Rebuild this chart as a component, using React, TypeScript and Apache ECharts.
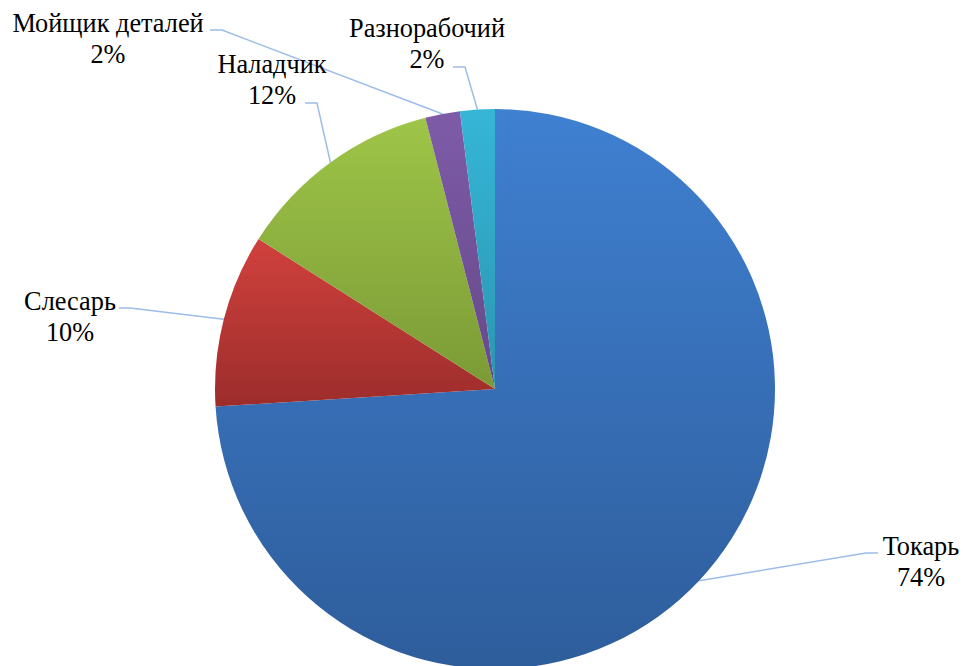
import React, { useEffect, useRef } from "react";
import * as echarts from "echarts";

const categories = ["Токарь", "Слесарь", "Наладчик", "Мойщик деталей", "Разнорабочий"];
const values = [74, 10, 12, 2, 2];
const topColors = ["#3F80D1", "#D0413D", "#9EC548", "#7E5BA8", "#36B6D7"];
const bottomColors = ["#2E5D9B", "#9C2D2B", "#7B9A36", "#654989", "#2B95B0"];
// label centre positions and leader-line elbow points (layout only)
const labelCenters = [[921, 562], [70, 317], [272, 80], [108, 39], [427, 44]];
const elbows = [
  [[866, 553], [878, 553]],
  [[130, 308], [119, 308]],
  [[317, 103], [305, 103]],
  [[222, 30], [210, 30]],
  [[465, 67], [453, 67]],
];

const FONT = "Liberation Serif";

export default function App() {
  const ref = useRef<HTMLDivElement>(null);
  useEffect(() => {
    document.body.style.margin = "0";
    const chart = echarts.init(ref.current!, null, { renderer: "svg" });
    const data = categories.map((name, i) => ({
      name,
      value: values[i],
      itemStyle: {
        color: new echarts.graphic.LinearGradient(0, 0, 0, 1, [
          { offset: 0, color: topColors[i] },
          { offset: 1, color: bottomColors[i] },
        ]),
      },
    }));
    chart.setOption({
      animation: false,
      backgroundColor: "#ffffff",
      series: [
        {
          type: "pie",
          center: [495, 389],
          radius: 280,
          startAngle: 90,
          data,
          label: {
            show: true,
            position: "outside",
            formatter: (p: any) => `${p.name}\n${Math.round(p.percent)}%`,
            fontFamily: FONT,
            fontSize: 26.3,
            lineHeight: 31,
            color: "#000000",
            align: "center",
          },
          labelLine: { show: true, lineStyle: { color: "#9DBDE8", width: 1.5 } },
          labelLayout: (params: any) => {
            const i = params.dataIndex;
            const start = params.labelLinePoints ? params.labelLinePoints[0] : elbows[i][0];
            return {
              x: labelCenters[i][0],
              y: labelCenters[i][1],
              align: "center",
              verticalAlign: "middle",
              labelLinePoints: [start, elbows[i][0], elbows[i][1]],
            };
          },
        },
      ],
    });
    return () => chart.dispose();
  }, []);
  return <div ref={ref} style={{ width: 964, height: 666, position: "fixed", left: 0, top: 0 }} />;
}
